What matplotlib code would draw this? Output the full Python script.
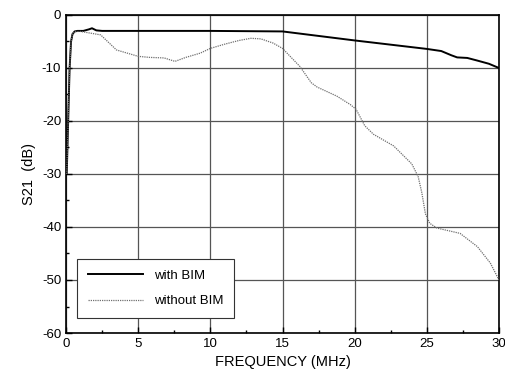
import matplotlib
matplotlib.use("Agg")
import matplotlib.pyplot as plt
from matplotlib.ticker import MultipleLocator

plt.rcParams['font.family'] = ['Liberation Sans', 'DejaVu Sans']
plt.rcParams['axes.unicode_minus'] = False

freq_with = [0.05, 0.15, 0.25, 0.35, 0.45, 0.6, 0.8, 1.2, 1.6, 1.8, 2.1, 2.5, 5, 10, 15,
             20, 25, 26, 26.7, 27.1, 27.8, 28.5, 29.3, 30]
s21_with = [-30, -20, -10, -5, -3.6, -3.1, -3.0, -3.0, -2.7, -2.5, -2.9, -3.0, -3.0, -3.0, -3.1,
            -4.8, -6.4, -6.8, -7.6, -8.0, -8.1, -8.6, -9.2, -10.0]

freq_without = [0.05, 0.15, 0.25, 0.35, 0.45, 0.6, 1.0, 2.4, 3.5, 5.0, 5.8, 6.8, 7.55, 8.3,
                9.3, 10, 11, 12, 12.8, 13.5, 14.35, 15, 16.2, 17.0, 17.4, 18.76, 19.7, 20.1,
                20.7, 21.3, 22.7, 23.96, 24.4, 24.65, 24.9, 25.2, 25.7, 27.3, 28.5, 29.4, 30]
s21_without = [-30, -20, -10, -5, -3.6, -3.1, -3.1, -3.75, -6.6, -7.8, -8.0, -8.1, -8.75, -8.0,
               -7.2, -6.3, -5.5, -4.8, -4.4, -4.5, -5.3, -6.3, -9.7, -12.8, -13.6, -15.3, -16.9,
               -17.8, -20.9, -22.5, -24.7, -28.1, -30.5, -33.5, -37.5, -39.3, -40.2, -41.2,
               -43.7, -46.8, -50.0]

xticks = [0, 5, 10, 15, 20, 25, 30]
yticks = [-60, -50, -40, -30, -20, -10, 0]

fig = plt.figure(figsize=(5.05, 3.85), dpi=100)
ax = fig.add_axes([66/505, 1-333/385, (499-66)/505, (333-15)/385])

ax.plot(freq_with, s21_with, color='black', lw=1.4, label='with BIM', zorder=3)
ax.plot(freq_without, s21_without, color='#707070', lw=0.9, ls=(0, (1, 0.8)),
        label='without BIM', zorder=3)

ax.set_xlim(0, 30)
ax.set_ylim(-60, 0)
ax.set_xticks(xticks)
ax.set_yticks(yticks)
ax.xaxis.set_minor_locator(MultipleLocator(2.5))
ax.yaxis.set_minor_locator(MultipleLocator(5))
ax.tick_params(which='both', direction='in', top=False, right=False, labelsize=9.5)
ax.tick_params(which='major', length=4, width=1)
ax.tick_params(which='minor', length=2.5, width=1)
ax.grid(True, which='major', color='#555555', lw=0.9)
for s in ax.spines.values():
    s.set_linewidth(1.2)

ax.set_xlabel('FREQUENCY (MHz)', fontsize=10.5)
ax.set_ylabel('S21  (dB)', fontsize=10.5)

leg = ax.legend(loc='lower left', bbox_to_anchor=(11/433, 15/318), fontsize=9.5,
                fancybox=False, framealpha=1, edgecolor='#333333', handlelength=4.2,
                borderpad=0.8, labelspacing=1.0, borderaxespad=0)
leg.get_frame().set_linewidth(0.8)

fig.savefig('out.png', dpi=100)
